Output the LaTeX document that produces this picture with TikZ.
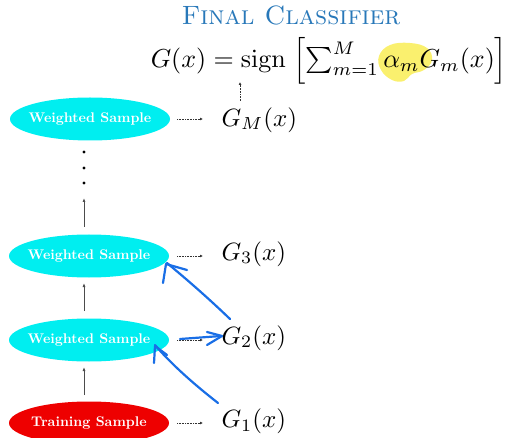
\documentclass[tikz,border=0pt]{standalone}
\usepackage{graphicx}
\usepackage{amsmath}
\usetikzlibrary{shapes.geometric,arrows.meta}
\definecolor{sampcyan}{RGB}{0,238,240}
\definecolor{sampred}{RGB}{238,0,0}
\definecolor{titleblue}{RGB}{40,120,185}
\definecolor{penblue}{RGB}{25,110,230}
\definecolor{hilite}{RGB}{250,240,110}
\newcommand{\samptext}[1]{\makebox[0pt]{\scalebox{1.4}{\bfseries #1}}}
\tikzset{
  sample/.style={ellipse, minimum width=160pt, minimum height=43pt, inner sep=0pt, text=white},
  wsample/.style={sample, fill=sampcyan},
  tsample/.style={sample, fill=sampred},
  glabel/.style={anchor=west, inner sep=0pt, scale=2.5},
  dotarrow/.style={densely dotted, -{Latex[length=3pt,width=3pt]}, line width=0.6pt, black!80},
  uparrow/.style={-{Latex[length=4pt,width=3pt]}, line width=0.8pt, black!70},
  pen/.style={penblue, line width=2.2pt, line cap=round, line join=round},
}
\begin{document}
\begin{tikzpicture}[x=1pt,y=-1pt]
\useasboundingbox (0,0) rectangle (511,438);
% title and formula
\node[text=titleblue, scale=2.65, inner sep=0pt, font=\scshape] (title) at (291,15) {Final Classifier};
\fill[hilite] plot[smooth cycle, tension=0.7] coordinates {(379,56) (390,45) (410,43) (427,48) (432,60) (424,70) (412,74) (404,81) (392,80) (381,70)};
\node[scale=2.6, inner sep=0pt] (formula) at (329,61)
  {$G(x) = \operatorname{sign}\;\Bigl[\sum_{m=1}^{M}\alpha_m G_m(x)\Bigr]$};
% samples
\node[wsample] (wM) at (90,119) {\samptext{Weighted\ Sample}};
\node[wsample] (w3) at (89,256) {\samptext{Weighted\ Sample}};
\node[wsample] (w2) at (89,340) {\samptext{Weighted\ Sample}};
\node[tsample] (t1) at (89,423) {\samptext{Training\ Sample}};
% classifier labels
\node[glabel] (gM) at (221,120) {$G_M(x)$};
\node[glabel] (g3) at (221,254) {$G_3(x)$};
\node[glabel] (g2) at (221,338) {$G_2(x)$};
\node[glabel] (g1) at (221,421) {$G_1(x)$};
% dotted arrows
\draw[dotarrow] (177,119) -- (203,119);
\draw[dotarrow] (177,256) -- (203,256);
\draw[dotarrow] (177,340) -- (203,340);
\draw[dotarrow] (177,423) -- (203,423);
\draw[dotarrow] (240,101) -- (240,82);
% vertical arrows
\draw[uparrow] (84,395) -- (84,367);
\draw[uparrow] (84,311) -- (84,283);
\draw[uparrow] (84,227) -- (84,198);
\foreach \yy in {152,168,183} \fill (84,\yy) circle (1.6pt);
% hand-drawn blue arrows
\draw[pen] (230,319) .. controls (205,295) and (185,278) .. (167,263);
\draw[pen] (163,283) -- (166,264) -- (187,270);
\draw[pen] (218,403) .. controls (195,385) and (172,365) .. (155,345);
\draw[pen] (154,363) -- (155,346) -- (167,355);
\draw[pen] (180,339) -- (221,336);
\draw[pen] (207,332) -- (222,336) -- (207,345);
\end{tikzpicture}
\end{document}
